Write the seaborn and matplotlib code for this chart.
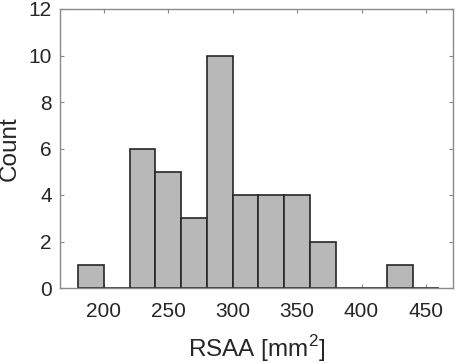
import matplotlib
matplotlib.use("Agg")
import matplotlib.pyplot as plt
import seaborn as sns
import numpy as np

# Data
bin_edges = [180, 200, 220, 240, 260, 280, 300, 320, 340, 360, 380, 400, 420, 440, 460]
counts = [1, 0, 6, 5, 3, 10, 4, 4, 4, 2, 0, 0, 1, 0]
x_ticks = [200, 250, 300, 350, 400, 450]
y_ticks = [0, 2, 4, 6, 8, 10, 12]

bin_centers = [(a + b) / 2 for a, b in zip(bin_edges[:-1], bin_edges[1:])]

sns.set_style("ticks")
plt.rcParams['font.family'] = ['Liberation Sans', 'DejaVu Sans']
plt.rcParams['mathtext.fontset'] = 'custom'
plt.rcParams['mathtext.rm'] = 'Liberation Sans'

fig = plt.figure(figsize=(4.57, 3.63), dpi=100)
ax = fig.add_axes([60/457, 75/363, 393/457, 279/363])

sns.histplot(x=bin_centers, weights=counts, bins=bin_edges, ax=ax,
             color="#b8b8b8", edgecolor="#262626", linewidth=1.2, alpha=1.0)

ax.set_xlim(166, 471)
ax.set_ylim(0, 12)
ax.set_xticks(x_ticks)
ax.set_yticks(y_ticks)
ax.tick_params(direction='in', length=3, width=0.8, color="#888888",
               labelsize=15, top=True, right=True)
ax.tick_params(axis='x', pad=10)
ax.tick_params(axis='y', pad=6)
for s in ax.spines.values():
    s.set_visible(True)
    s.set_color("#8a8a8a")
    s.set_linewidth(1.0)

ax.set_xlabel("RSAA [mm$^\\mathregular{2}$]", fontsize=17.5)
ax.set_ylabel("Count", fontsize=17.5)
ax.yaxis.set_label_coords((21 - 60) / 393, 0.5)
ax.xaxis.set_label_coords(0.5, -(357 - 288) / 279)
ax.xaxis.label.set_va('baseline')

fig.savefig("out.png", dpi=100)
